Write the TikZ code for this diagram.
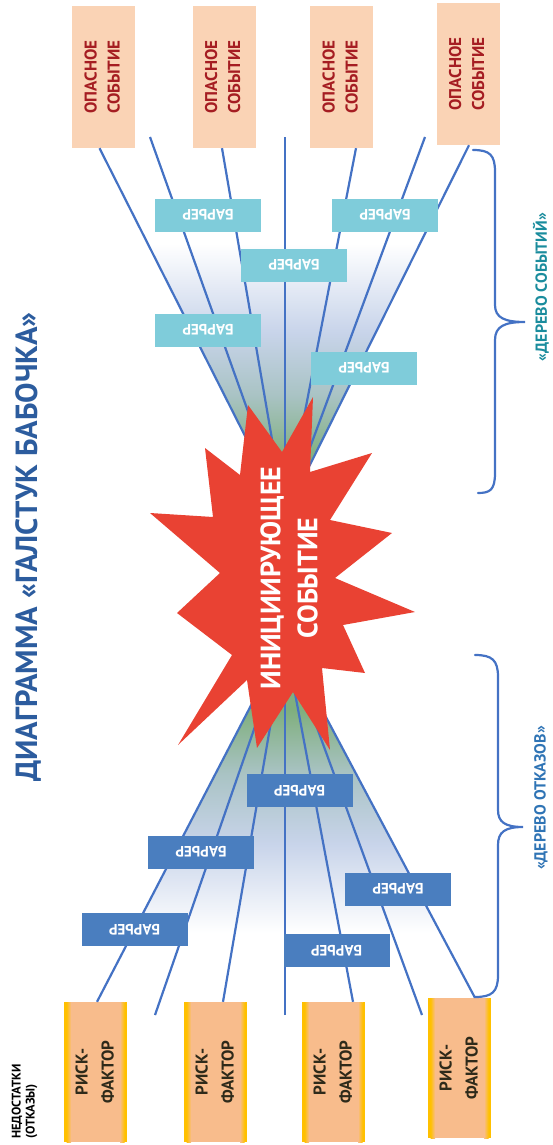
\documentclass[tikz,border=0pt]{standalone}
\usepackage{fontspec}
\setmainfont{PT Sans}
\usetikzlibrary{calc}

\definecolor{linecol}{HTML}{4472C4}
\definecolor{evfill}{HTML}{FAD3B5}
\definecolor{evtext}{HTML}{A51D22}
\definecolor{rfill}{HTML}{F8BC8C}
\definecolor{rstrip}{HTML}{FFC000}
\definecolor{rtext}{HTML}{2E2A1A}
\definecolor{barlight}{HTML}{7FCCDA}
\definecolor{bardark}{HTML}{4A7EBF}
\definecolor{starred}{HTML}{E94233}
\definecolor{titleblue}{HTML}{2C5C9E}
\definecolor{evtreecol}{HTML}{1A8C9D}
\definecolor{faultblue}{HTML}{2F74B5}
\definecolor{fangreen}{HTML}{80AF7E}
\definecolor{fanmid}{HTML}{A9C3C4}
\definecolor{fanblue}{HTML}{C8D4EA}

% fan shadings; TikZ fits the 25bp..75bp band to the filled region
\pgfdeclareverticalshading{eventfan}{100bp}{%
  color(0bp)=(fangreen); color(25bp)=(fangreen); color(34bp)=(fangreen);
  color(44bp)=(fanmid); color(54bp)=(fanblue); color(68bp)=(white);
  color(75bp)=(white); color(100bp)=(white)}
\pgfdeclareverticalshading{faultfan}{100bp}{%
  color(0bp)=(white); color(25bp)=(white); color(29bp)=(white);
  color(43bp)=(fanblue); color(54bp)=(fanmid); color(64bp)=(fangreen);
  color(75bp)=(fangreen); color(100bp)=(fangreen)}

% two-line text turned to read upwards
\newcommand\uptext[1]{\rotatebox{90}{\begin{tabular}{@{}c@{}}#1\end{tabular}}}

\tikzset{
  tree/.style={draw=linecol, line width=2.2pt},
  brace/.style={draw=linecol, line width=2.2pt, line cap=round},
  eventbox/.style={fill=evfill, inner sep=0pt, minimum width=63pt, minimum height=142pt,
    text=evtext, font=\bfseries\fontsize{17}{23}\selectfont},
  riskbox/.style={fill=rfill, inner sep=0pt, minimum width=63pt, minimum height=140pt,
    text=rtext, font=\bfseries\fontsize{17}{26}\selectfont,
    path picture={
      \fill[rstrip] (path picture bounding box.north west) rectangle
        ($(path picture bounding box.south west)+(2.5,0)$);
      \shade[left color=rstrip, right color=rfill]
        ($(path picture bounding box.north west)+(2.5,0)$) rectangle
        ($(path picture bounding box.south west)+(7,0)$);
      \fill[rstrip] ($(path picture bounding box.north east)+(-2.5,0)$) rectangle
        (path picture bounding box.south east);
      \shade[left color=rfill, right color=rstrip]
        ($(path picture bounding box.north east)+(-7,0)$) rectangle
        ($(path picture bounding box.south east)+(-2.5,0)$);
    }},
  barrier/.style={inner sep=0pt, minimum width=106pt, minimum height=33pt,
    text=white, rotate=180, font=\bfseries\fontsize{15}{17}\selectfont},
  lightbar/.style={barrier, fill=barlight},
  darkbar/.style={barrier, fill=bardark},
}

\begin{document}
\begin{tikzpicture}[x=1pt, y=-1pt]
\useasboundingbox (0,0) rectangle (553,1145);

% ---------- end boxes ----------
\node[eventbox] (ev1) at (103.5,77) {\uptext{ОПАСНОЕ\\СОБЫТИЕ}};
\node[eventbox] (ev2) at (224,77)   {\uptext{ОПАСНОЕ\\СОБЫТИЕ}};
\node[eventbox] (ev3) at (341.5,77) {\uptext{ОПАСНОЕ\\СОБЫТИЕ}};
\node[eventbox] (ev4) at (468,74)   {\uptext{ОПАСНОЕ\\СОБЫТИЕ}};

\node[riskbox] (rf1) at (95.5,1072)  {\uptext{РИСК-\\ФАКТОР}};
\node[riskbox] (rf2) at (215.5,1072) {\uptext{РИСК-\\ФАКТОР}};
\node[riskbox] (rf3) at (333.5,1072) {\uptext{РИСК-\\ФАКТОР}};
\node[riskbox] (rf4) at (459.5,1068) {\uptext{РИСК-\\ФАКТОР}};

% ---------- branch end points ----------
\coordinate (T)  at (285,515);
\coordinate (Bt) at (285,640);

\coordinate (e1) at ([xshift=-4pt]ev1.south);
\coordinate (e2) at (150,137);
\coordinate (e3) at ([xshift=-2pt]ev2.south);
\coordinate (e4) at (285,137);
\coordinate (e5) at ([xshift=14.5pt]ev3.south);
\coordinate (e6) at (425,137);
\coordinate (e7) at ([xshift=1pt]ev4.south);

\coordinate (b1) at ([xshift=1.5pt]rf1.north);
\coordinate (b2) at (155,1015);
\coordinate (b3) at ([xshift=7.5pt]rf2.north);
\coordinate (b4) at (285,1015);
\coordinate (b5) at ([xshift=19.5pt]rf3.north);
\coordinate (b6) at (422,1015);
\coordinate (b7) at ([xshift=15.5pt]rf4.north);

% ---------- shaded fans ----------
\shade[shading=eventfan]
  (T) -- ($(e1)!0.14!(T)$) -- ($(e7)!0.15!(T)$) -- cycle;
\shade[shading=faultfan]
  (Bt) -- ($(b1)!0.12!(Bt)$) -- ($(b7)!0.11!(Bt)$) -- cycle;

% ---------- branches ----------
\foreach \i in {1,...,7} {
  \draw[tree] (e\i) -- (T);
  \draw[tree] (b\i) -- (Bt);
}

% ---------- barriers ----------
\node[lightbar] (br1) at (208,215) {БАРЬЕР};
\node[lightbar] (br2) at (385,215) {БАРЬЕР};
\node[lightbar] (br3) at (294,265) {БАРЬЕР};
\node[lightbar] (br4) at (208,330) {БАРЬЕР};
\node[lightbar] (br5) at (364,368) {БАРЬЕР};

\node[darkbar] (bd1) at (299.5,790.5) {БАРЬЕР};
\node[darkbar] (bd2) at (201,852)     {БАРЬЕР};
\node[darkbar] (bd3) at (398,889)     {БАРЬЕР};
\node[darkbar] (bd4) at (134.5,929.5) {БАРЬЕР};
\node[darkbar] (bd5) at (336.5,950.5) {БАРЬЕР};

% ---------- initiating event ----------
\fill[starred] (248,405) -- (282,452) -- (313,397) -- (310,472) -- (372,453)
  -- (330,520) -- (392,533) -- (335,578) -- (415,612) -- (343,625)
  -- (365,673) -- (322,668) -- (330,750) -- (293,692) -- (257,748)
  -- (247,680) -- (178,745) -- (232,655) -- (177,613) -- (220,573)
  -- (150,513) -- (213,517) -- (205,448) -- (240,475) -- cycle;
\node[rotate=90, align=center, text=white, inner sep=0pt,
  font=\bfseries\fontsize{28}{37}\selectfont] (init) at (289,578)
  {ИНИЦИИРУЮЩЕЕ\\СОБЫТИЕ};

% ---------- braces ----------
\draw[brace] (473,150) .. controls (490,150) and (495,155) .. (495,172)
  -- (495,305) .. controls (495,318) and (505,322) .. (525,322)
  .. controls (505,322) and (495,326) .. (495,340)
  -- (495,473) .. controls (495,490) and (490,493) .. (478,493);
\draw[brace] (475,655) .. controls (492,655) and (498,660) .. (498,677)
  -- (498,810) .. controls (498,822) and (505,827) .. (523,827)
  .. controls (505,827) and (498,832) .. (498,845)
  -- (498,975) .. controls (498,992) and (492,997) .. (475,997);

% ---------- captions ----------
\node[rotate=90, text=titleblue, inner sep=0pt,
  font=\bfseries\fontsize{30.6}{33}\selectfont] (title) at (28,547)
  {ДИАГРАММА «ГАЛСТУК БАБОЧКА»};
\node[rotate=90, text=evtreecol, inner sep=0pt,
  font=\bfseries\fontsize{16}{18}\selectfont] (evlabel) at (541,287)
  {«ДЕРЕВО СОБЫТИЙ»};
\node[rotate=90, text=faultblue, inner sep=0pt,
  font=\bfseries\fontsize{16}{18}\selectfont] (ftlabel) at (541,798)
  {«ДЕРЕВО ОТКАЗОВ»};
\node[rotate=90, anchor=west, align=left, inner sep=0pt,
  font=\bfseries\fontsize{12.5}{14}\selectfont] (lack) at (24.5,1139)
  {НЕДОСТАТКИ\\(ОТКАЗЫ)};
\end{tikzpicture}
\end{document}
